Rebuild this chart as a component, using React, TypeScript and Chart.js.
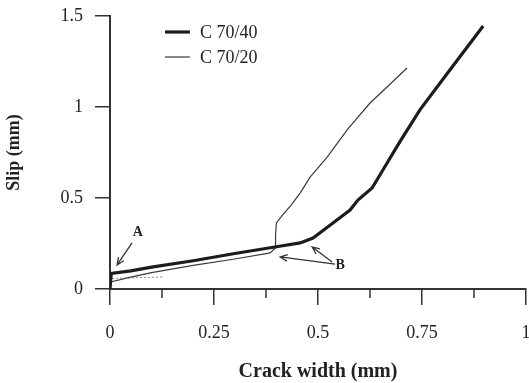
import React, { useEffect, useRef } from "react";
import { Chart, registerables } from "chart.js";

Chart.register(...registerables);

// ---- data ----
const seriesNames = ["C 70/40", "C 70/20"];
const crack40 = [0, 0.003, 0.05, 0.1, 0.2, 0.3, 0.4, 0.457, 0.488, 0.536, 0.577, 0.596, 0.63, 0.656, 0.697, 0.745, 0.817, 0.897];
const slip40 = [0, 0.085, 0.1, 0.12, 0.155, 0.195, 0.232, 0.253, 0.28, 0.363, 0.434, 0.489, 0.555, 0.654, 0.81, 0.984, 1.203, 1.445];
const crack20 = [0, 0.004, 0.05, 0.1, 0.2, 0.3, 0.385, 0.397, 0.398, 0.4, 0.416, 0.435, 0.457, 0.481, 0.522, 0.57, 0.625, 0.666, 0.714];
const slip20 = [0, 0.04, 0.065, 0.09, 0.13, 0.165, 0.198, 0.225, 0.3, 0.363, 0.41, 0.46, 0.527, 0.615, 0.725, 0.874, 1.022, 1.11, 1.214];
const crackFaint = [0.005, 0.06, 0.13];
const slipFaint = [0.058, 0.062, 0.066];

const xTickValues = [0, 0.25, 0.5, 0.75, 1];
const xTickLabels = ["0", "0.25", "0.5", "0.75", "1"];
const xMinorTicks = [0.125, 0.375, 0.625, 0.875];
const yTickValues = [0, 0.5, 1, 1.5];
const yTickLabels = ["0", "0.5", "1", "1.5"];

// annotations (data coordinates)
const annotTexts = ["A", "B"];
const annotTextX = [0.067, 0.553];
const annotTextY = [0.31, 0.127];
const arrowFromX = [0.053, 0.534, 0.541];
const arrowFromY = [0.253, 0.148, 0.137];
const arrowToX = [0.017, 0.486, 0.409];
const arrowToY = [0.132, 0.231, 0.176];

const SERIF = "'Liberation Serif', 'Times New Roman', serif";

const toPts = (xs: number[], ys: number[]) => xs.map((x, i) => ({ x, y: ys[i] }));

const minorTickPlugin = {
  id: "minorTicks",
  afterDraw(chart: any) {
    const { ctx } = chart;
    const xs = chart.scales.x;
    const y0 = chart.chartArea.bottom;
    ctx.save();
    ctx.strokeStyle = "#333";
    ctx.lineWidth = 1.5;
    xMinorTicks.forEach((v) => {
      const px = xs.getPixelForValue(v);
      ctx.beginPath();
      ctx.moveTo(px, y0);
      ctx.lineTo(px, y0 + 9);
      ctx.stroke();
    });
    ctx.restore();
  },
};

const legendPlugin = {
  id: "insideLegend",
  afterDraw(chart: any) {
    const { ctx, chartArea } = chart;
    ctx.save();
    ctx.font = `18px ${SERIF}`;
    ctx.textBaseline = "middle";
    ctx.fillStyle = "#222";
    const sets = chart.data.datasets.filter((d: any) => !d.hideLegend);
    sets.forEach((d: any, i: number) => {
      const y = chartArea.top + 16 + i * 25;
      const x = chartArea.left + 55;
      ctx.strokeStyle = d.borderColor;
      ctx.lineWidth = d.borderWidth;
      ctx.beginPath();
      ctx.moveTo(x, y);
      ctx.lineTo(x + 25, y);
      ctx.stroke();
      ctx.fillText(d.label, x + 35, y + 1);
    });
    ctx.restore();
  },
};

const annotPlugin = {
  id: "annots",
  afterDraw(chart: any) {
    const { ctx } = chart;
    const xs = chart.scales.x;
    const ys = chart.scales.y;
    ctx.save();
    ctx.fillStyle = "#222";
    ctx.font = `bold 14px ${SERIF}`;
    ctx.textAlign = "center";
    ctx.textBaseline = "middle";
    annotTexts.forEach((t, i) => {
      ctx.fillText(t, xs.getPixelForValue(annotTextX[i]), ys.getPixelForValue(annotTextY[i]));
    });
    ctx.strokeStyle = "#333";
    ctx.lineWidth = 1.3;
    arrowFromX.forEach((fx, i) => {
      const x1 = xs.getPixelForValue(fx);
      const y1 = ys.getPixelForValue(arrowFromY[i]);
      const x2 = xs.getPixelForValue(arrowToX[i]);
      const y2 = ys.getPixelForValue(arrowToY[i]);
      const ang = Math.atan2(y2 - y1, x2 - x1);
      ctx.beginPath();
      ctx.moveTo(x1, y1);
      ctx.lineTo(x2, y2);
      const hl = 8;
      const spread = 0.42;
      ctx.moveTo(x2 - hl * Math.cos(ang - spread), y2 - hl * Math.sin(ang - spread));
      ctx.lineTo(x2, y2);
      ctx.lineTo(x2 - hl * Math.cos(ang + spread), y2 - hl * Math.sin(ang + spread));
      ctx.stroke();
    });
    ctx.restore();
  },
};

export default function App() {
  const ref = useRef<HTMLCanvasElement | null>(null);
  useEffect(() => {
    if (!ref.current) return;
    const chart = new Chart(ref.current, {
      type: "line",
      data: {
        datasets: [
          {
            label: seriesNames[0],
            data: toPts(crack40, slip40),
            borderColor: "#1c1c1c",
            borderWidth: 3.2,
            pointRadius: 0,
            tension: 0,
            fill: false,
          },
          {
            label: seriesNames[1],
            data: toPts(crack20, slip20),
            borderColor: "#3a3a3a",
            borderWidth: 1.2,
            pointRadius: 0,
            tension: 0,
            fill: false,
          },
          {
            label: "",
            hideLegend: true,
            data: toPts(crackFaint, slipFaint),
            borderColor: "#8a8a8a",
            borderWidth: 1,
            borderDash: [2, 2],
            pointRadius: 0,
            tension: 0,
            fill: false,
          } as any,
        ],
      },
      options: {
        animation: false,
        responsive: false,
        maintainAspectRatio: false,
        layout: { padding: { top: 16, right: 3, left: 0, bottom: 0 } },
        plugins: { legend: { display: false }, tooltip: { enabled: false } },
        scales: {
          x: {
            type: "linear",
            min: 0,
            max: 1,
            afterBuildTicks: (s: any) => {
              s.ticks = xTickValues.map((v) => ({ value: v }));
            },
            afterFit: (s: any) => {
              s.height = 94;
              s.paddingLeft = 0;
              s.paddingRight = 0;
            },
            ticks: {
              callback: (_v: any, i: number) => xTickLabels[i],
              font: { family: SERIF, size: 18 },
              color: "#222",
              padding: 17,
              maxRotation: 0,
            },
            grid: { drawOnChartArea: false, tickLength: 16, color: "#333", lineWidth: 1.5 },
            border: { color: "#333", width: 2 },
            title: {
              display: true,
              text: "Crack width (mm)",
              font: { family: SERIF, size: 20, weight: "bold" },
              color: "#222",
              padding: { top: 0, bottom: -1 },
            },
          },
          y: {
            type: "linear",
            min: 0,
            max: 1.5,
            afterBuildTicks: (s: any) => {
              s.ticks = yTickValues.map((v) => ({ value: v }));
            },
            afterFit: (s: any) => {
              s.width = 110;
              s.paddingTop = 0;
              s.paddingBottom = 0;
            },
            ticks: {
              callback: (_v: any, i: number) => yTickLabels[i],
              font: { family: SERIF, size: 18 },
              color: "#222",
              padding: 12,
            },
            grid: { drawOnChartArea: false, tickLength: 15, color: "#333", lineWidth: 1.5 },
            border: { color: "#333", width: 2 },
            title: {
              display: true,
              text: "Slip (mm)",
              font: { family: SERIF, size: 18, weight: "bold" },
              color: "#222",
              padding: { top: 4, bottom: 0 },
            },
          },
        },
      },
      plugins: [minorTickPlugin, legendPlugin, annotPlugin],
    });
    return () => chart.destroy();
  }, []);
  return (
    <div style={{ position: "absolute", left: 0, top: 0, width: 529, height: 383, background: "#fff" }}>
      <canvas ref={ref} width={529} height={383} style={{ width: 529, height: 383 }} />
    </div>
  );
}
